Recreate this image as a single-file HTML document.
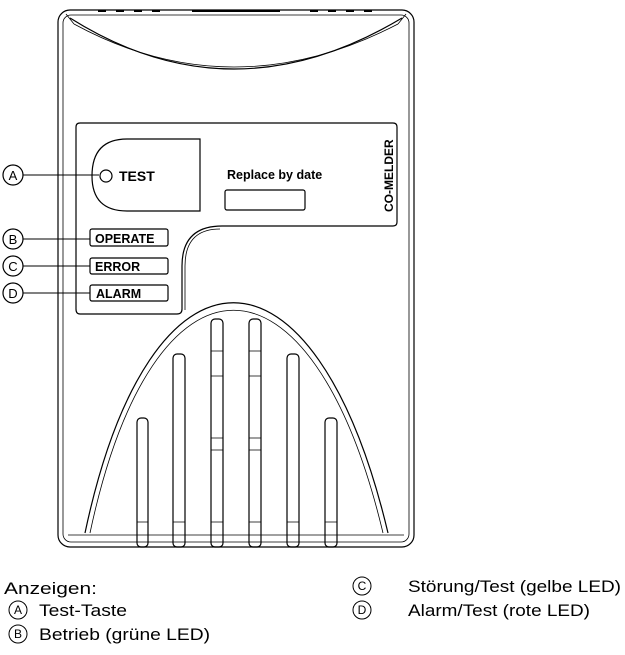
<!DOCTYPE html>
<html><head><meta charset="utf-8"><style>
body{margin:0;background:#fff;width:625px;height:655px;overflow:hidden}
svg{display:block}
</style></head><body>
<svg width="625" height="655" viewBox="0 0 625 655" xmlns="http://www.w3.org/2000/svg" font-family="Liberation Sans, sans-serif">
<g fill="none" stroke="#000" stroke-width="1.2">
<rect x="58" y="10" width="356" height="537" rx="12"/>
<rect x="63" y="15" width="346" height="527" rx="8" stroke-width="0.8"/>
<path d="M66 14 L74 24" stroke-width="0.8"/><path d="M406 14 L398 24" stroke-width="0.8"/>
<path d="M70 18 Q232 120 402 18" />
<path d="M74 24 Q232 110 398 24" stroke-width="0.8"/>
<path d="M98 11h8M116 11h8M134 11h8M152 11h8M192 11h88M310 11h8M328 11h8M346 11h8M364 11h8" stroke-width="2"/>
<path d="M68 535 H404" stroke-width="0.8"/>
<path d="M80 123 H393 Q397 123 397 127 V222 Q397 226 393 226 H222 Q182 226 182 266 V309 Q182 314 177 314 H80 Q76 314 76 309 V127 Q76 123 80 123 Z"/>
<path d="M220 229 Q185 229 185 266 V310" stroke-width="0.8"/>
<path d="M200 139 V211 H127 Q92 211 92 176 Q92 139 127 139 Z"/>
<circle cx="106" cy="176" r="6"/>
<rect x="225" y="190" width="80" height="20" rx="2"/>
<rect x="90" y="229" width="78" height="17" rx="2"/>
<rect x="90" y="258" width="78" height="16" rx="2"/>
<rect x="90" y="285" width="78" height="16" rx="2"/>
<circle cx="13" cy="175" r="10"/><circle cx="13" cy="239" r="10"/><circle cx="13" cy="266" r="10"/><circle cx="13" cy="293" r="10"/>
<path d="M23 175 H99M23 239 H90M23 266 H90M23 293 H90" stroke-width="1"/>
<path d="M85 533 C150 226 315 226 388 533"/>
<path d="M90 533 C153 236 312 236 383 533" stroke-width="0.8"/>
<g>
<rect x="137" y="418" width="11" height="129" rx="4"/>
<rect x="173" y="354" width="12" height="193" rx="4"/>
<rect x="211" y="319" width="12" height="228" rx="4"/>
<rect x="249" y="319" width="12" height="228" rx="4"/>
<rect x="287" y="354" width="12" height="193" rx="4"/>
<rect x="325" y="418" width="12" height="129" rx="4"/>
</g>
<path d="M211 351h12M211 376h12M211 438h12M211 450h12M249 351h12M249 376h12M249 438h12M249 450h12" stroke-width="0.8"/>
<path d="M137 522h11M173 522h12M211 522h12M249 522h12M287 522h12M325 522h12" stroke-width="0.8"/>
</g>
<g font-size="13" text-anchor="middle" fill="#000">
<text x="13" y="180">A</text><text x="13" y="244">B</text><text x="13" y="271">C</text><text x="13" y="298">D</text>
</g>
<g font-weight="bold" fill="#000">
<text x="119" y="181" font-size="14">TEST</text>
<text x="227" y="179" font-size="12.5">Replace by date</text>
<text x="95" y="243" font-size="12.5">OPERATE</text>
<text x="95" y="271" font-size="12.5">ERROR</text>
<text x="96" y="298" font-size="12.5">ALARM</text>
<text transform="translate(393,212) rotate(-90)" font-size="12">CO-MELDER</text>
</g>
<g fill="#000" font-size="17">
<text x="4" y="594" textLength="93" lengthAdjust="spacingAndGlyphs">Anzeigen:</text>
<text x="39" y="616" textLength="88" lengthAdjust="spacingAndGlyphs">Test-Taste</text>
<text x="39" y="640" textLength="171" lengthAdjust="spacingAndGlyphs">Betrieb (grüne LED)</text>
<text x="408" y="592" textLength="213" lengthAdjust="spacingAndGlyphs">Störung/Test (gelbe LED)</text>
<text x="408" y="616" textLength="182" lengthAdjust="spacingAndGlyphs">Alarm/Test (rote LED)</text>
</g>
<g fill="none" stroke="#000" stroke-width="1">
<circle cx="18" cy="610" r="9"/><circle cx="18" cy="634" r="9"/><circle cx="362" cy="586" r="9"/><circle cx="362" cy="610" r="9"/>
</g>
<g font-size="12" text-anchor="middle" fill="#000">
<text x="18" y="614">A</text><text x="18" y="638">B</text><text x="362" y="590">C</text><text x="362" y="614">D</text>
</g>
</svg>
</body></html>
